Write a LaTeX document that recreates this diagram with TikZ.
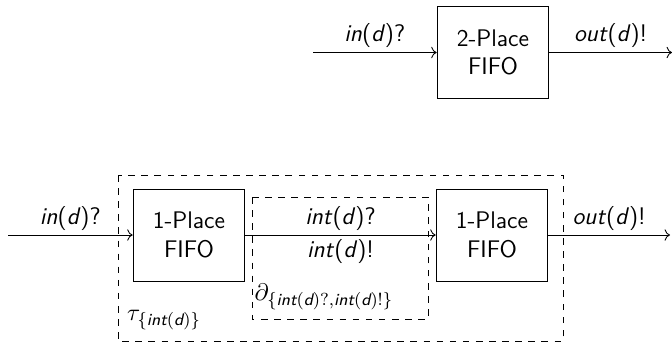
\documentclass[tikz,border=0pt]{standalone}
\usepackage{amsmath}
\usepackage{tikz}
\usetikzlibrary{arrows.meta, positioning, calc}
\renewcommand{\familydefault}{\sfdefault}
\newcommand{\chanact}[2]{\textit{#1}(\textit{d})#2}

\begin{document}
\begin{tikzpicture}[x=0.0161cm, y=-0.0161cm,
  font=\fontsize{11}{13}\selectfont,
  fifo/.style={draw, minimum width=1.8cm, minimum height=1.48cm, align=center, inner sep=0pt},
  scopebox/.style={draw, dashed},
  chan/.style={->},
  lbl/.style={inner sep=2pt}
]
\useasboundingbox (0,0) rectangle (672,342);
%% SPECIFICATION
\node[fifo] (two) at (493,52.5) {2-Place\\FIFO};
\coordinate (twoIn) at (313,52.5);
\coordinate (twoOut) at (672,52.5);
\draw[chan] (twoIn) -- (two.west) node[midway,above,lbl] {\chanact{in}{?}};
\draw[chan] (two.east) -- (twoOut) node[midway,above,lbl] {\chanact{out}{!}};
%% IMPLEMENTATION
\node[fifo] (oneA) at (189,235) {1-Place\\FIFO};
\node[fifo] (oneB) at (492,235) {1-Place\\FIFO};
\coordinate (implIn) at (8,235);
\coordinate (implOut) at (670,235);
\draw[chan] (implIn) -- (oneA.west) node[midway,above,lbl] {\chanact{in}{?}};
\draw[chan] (oneA.east) -- (oneB.west)
  node[midway,above,lbl] {\chanact{int}{?}}
  node[midway,below,lbl] {\chanact{int}{!}};
\draw[chan] (oneB.east) -- (implOut) node[midway,above,lbl] {\chanact{out}{!}};
%% ENCAPSULATION AND HIDING
\coordinate (tauNW) at (118,175);
\coordinate (tauSE) at (563,341);
\coordinate (encNW) at (252,197);
\coordinate (encSE) at (428,319);
\draw[scopebox] (tauNW) rectangle (tauSE);
\draw[scopebox] (encNW) rectangle (encSE);
\node[anchor=south west, inner xsep=1pt, inner ysep=4pt] (encLbl) at (encNW |- encSE)
  {$\partial_{\{\textit{int}(\textit{d})?,\textit{int}(\textit{d})!\}}$};
\node[anchor=south west, inner xsep=4pt, inner ysep=5pt] (tauLbl) at (tauNW |- tauSE)
  {$\tau_{\{\textit{int}(\textit{d})\}}$};
\end{tikzpicture}
\end{document}
